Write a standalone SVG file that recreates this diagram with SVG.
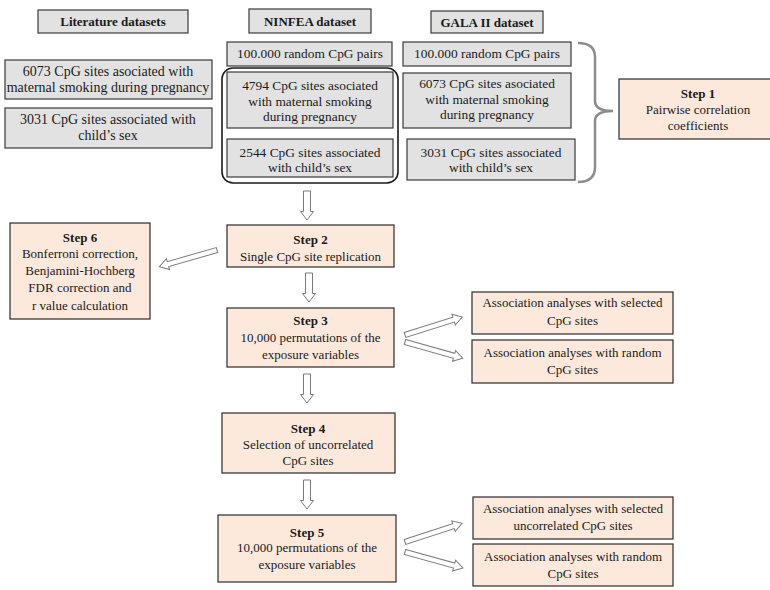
<svg xmlns="http://www.w3.org/2000/svg" xmlns:xlink="http://www.w3.org/1999/xlink" width="770" height="590" viewBox="0 0 770 590">
<style>
text { font-family: "Liberation Serif", "Times New Roman", serif; font-size: 13px; fill: #1a1a1a; text-anchor: middle; }
.b { font-weight: bold; }
.lg { font-size: 14px; }
.md { font-size: 13.4px; }
.gray { fill: #e2e2e2; stroke: #3a3a3a; stroke-width: 1.2; }
.peach { fill: #fce9dc; stroke: #2a2a2a; stroke-width: 1.2; }
.arr { fill: #ffffff; stroke: #7a7a7a; stroke-width: 1; }
.brace { fill: none; stroke: #8c8c8c; stroke-width: 2.5; }
</style>
<defs>
<path id="dn" d="M-3.5,0 V20.5 H-6.5 L0,29 L6.5,20.5 H3.5 V0 Z"/>
<path id="hz" d="M0,-2.6 H51 V-5.6 L60,0 L51,5.6 V2.6 H0 Z"/>
</defs>
<rect width="770" height="590" fill="#ffffff"/>

<g id="hdr-literature">
<rect class="gray" x="38" y="10" width="150" height="23"/>
<text class="b" x="113" y="26">Literature datasets</text>
</g>
<g id="hdr-ninfea">
<rect class="gray" x="249" y="9" width="122" height="24"/>
<text class="b" x="310" y="26">NINFEA dataset</text>
</g>
<g id="hdr-gala">
<rect class="gray" x="431" y="11" width="112" height="22"/>
<text class="b" x="487" y="27">GALA II dataset</text>
</g>

<g id="lit-smoking">
<rect class="gray" x="5" y="60" width="207" height="39"/>
<text class="lg" x="108" y="76">6073 CpG sites asociated with</text>
<text class="lg" x="108" y="92">maternal smoking during pregnancy</text>
</g>
<g id="lit-sex">
<rect class="gray" x="5" y="108" width="207" height="40"/>
<text class="lg" x="108" y="124">3031 CpG sites associated with</text>
<text class="lg" x="108" y="140">child’s sex</text>
</g>

<g id="ninfea-random">
<rect class="gray" x="227" y="42" width="165" height="24"/>
<text class="md" x="310" y="58">100.000 random CpG pairs</text>
</g>
<g id="ninfea-group">
<rect x="222" y="68" width="176" height="115" rx="11" ry="11" fill="none" stroke="#1a1a1a" stroke-width="1.6"/>
</g>
<g id="ninfea-smoking">
<rect class="gray" x="227" y="72" width="166" height="56"/>
<text class="md" x="310" y="90">4794 CpG sites asociated</text>
<text class="md" x="310" y="106">with maternal smoking</text>
<text class="md" x="310" y="121">during pregnancy</text>
</g>
<g id="ninfea-sex">
<rect class="gray" x="227" y="139" width="166" height="38"/>
<text class="md" x="310" y="157">2544 CpG sites associated</text>
<text class="md" x="310" y="172">with child’s sex</text>
</g>

<g id="gala-random">
<rect class="gray" x="403" y="42" width="168" height="24"/>
<text class="md" x="487" y="58">100.000 random CpG pairs</text>
</g>
<g id="gala-smoking">
<rect class="gray" x="403" y="73" width="168" height="55"/>
<text class="md" x="487" y="88">6073 CpG sites asociated</text>
<text class="md" x="487" y="104">with maternal smoking</text>
<text class="md" x="487" y="119">during pregnancy</text>
</g>
<g id="gala-sex">
<rect class="gray" x="407" y="139" width="168" height="41"/>
<text class="md" x="491" y="157">3031 CpG sites associated</text>
<text class="md" x="491" y="172">with child’s sex</text>
</g>

<g id="step1">
<rect class="peach" x="619" y="79" width="160" height="60"/>
<text class="b" x="698" y="98">Step 1</text>
<text x="698" y="114">Pairwise correlation</text>
<text x="698" y="130">coefficients</text>
</g>
<g id="step2">
<rect class="peach" x="227" y="225" width="167" height="42"/>
<text class="b" x="310.5" y="244">Step 2</text>
<text x="310.5" y="261">Single CpG site replication</text>
</g>
<g id="step3">
<rect class="peach" x="227" y="308" width="167" height="59"/>
<text class="b" x="310.5" y="325">Step 3</text>
<text x="310.5" y="342">10,000 permutations of the</text>
<text x="310.5" y="359">exposure variables</text>
</g>
<g id="step4">
<rect class="peach" x="222" y="413" width="173" height="60"/>
<text class="b" x="308" y="433">Step 4</text>
<text x="308" y="449">Selection of uncorrelated</text>
<text x="308" y="465">CpG sites</text>
</g>
<g id="step5">
<rect class="peach" x="218" y="515" width="178" height="67"/>
<text class="b" x="307" y="537">Step 5</text>
<text x="307" y="552">10,000 permutations of the</text>
<text x="307" y="569">exposure variables</text>
</g>
<g id="step6">
<rect class="peach" x="10" y="223" width="140" height="96"/>
<text class="b" x="80" y="242">Step 6</text>
<text x="80" y="258">Bonferroni correction,</text>
<text x="80" y="275">Benjamini-Hochberg</text>
<text x="80" y="292">FDR correction and</text>
<text x="80" y="310">r value calculation</text>
</g>

<g id="assoc1">
<rect class="peach" x="472" y="292" width="201" height="42"/>
<text x="572.5" y="307">Association analyses with selected</text>
<text x="572.5" y="325">CpG sites</text>
</g>
<g id="assoc2">
<rect class="peach" x="472" y="340" width="201" height="43"/>
<text x="572.5" y="357">Association analyses with random</text>
<text x="572.5" y="374">CpG sites</text>
</g>
<g id="assoc3">
<rect class="peach" x="473" y="497" width="200" height="42"/>
<text x="573" y="513">Association analyses with selected</text>
<text x="573" y="530">uncorrelated CpG sites</text>
</g>
<g id="assoc4">
<rect class="peach" x="473" y="544" width="200" height="42"/>
<text x="573" y="561">Association analyses with random</text>
<text x="573" y="578">CpG sites</text>
</g>

<g id="connectors">
<path class="brace" d="M578,43 Q595,43 595,57 L595,101 Q595,111 613,111 M595,121 Q595,111 613,111 M595,121 L595,167 Q595,182 578,182"/>
<use xlink:href="#dn" class="arr" transform="translate(307,191)"/>
<use xlink:href="#dn" class="arr" transform="translate(309,273)"/>
<use xlink:href="#dn" class="arr" transform="translate(307,374)"/>
<use xlink:href="#dn" class="arr" transform="translate(307,480)"/>
<use xlink:href="#hz" class="arr" transform="translate(217,250) rotate(163.9)"/>
<use xlink:href="#hz" class="arr" transform="translate(405,335) rotate(-17.5)"/>
<use xlink:href="#hz" class="arr" transform="translate(405,342) rotate(15.7)"/>
<use xlink:href="#hz" class="arr" transform="translate(405,542) rotate(-18.1)"/>
<use xlink:href="#hz" class="arr" transform="translate(405,552) rotate(15.4)"/>
</g>
</svg>
